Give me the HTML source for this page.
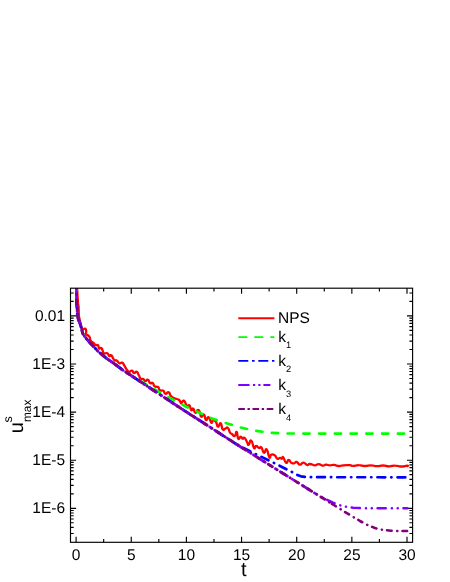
<!DOCTYPE html>
<html><head><meta charset="utf-8"><title>chart</title>
<style>
html,body{margin:0;padding:0;background:#fff;}
body{width:450px;height:582px;overflow:hidden;}
svg{display:block;}
text{font-family:"Liberation Sans", sans-serif;fill:#000;filter:grayscale(1);text-rendering:geometricPrecision;}
</style></head><body>
<svg width="450" height="582" viewBox="0 0 450 582">
<rect width="450" height="582" fill="#fff"/>
<defs><clipPath id="c"><rect x="70.5" y="288.2" width="342.1" height="254.1"/></clipPath></defs>
<g>
<path d="M76.10 542.30 v-5.60 M76.10 288.20 v5.60 M103.67 542.30 v-3.20 M103.67 288.20 v3.20 M131.25 542.30 v-5.60 M131.25 288.20 v5.60 M158.82 542.30 v-3.20 M158.82 288.20 v3.20 M186.40 542.30 v-5.60 M186.40 288.20 v5.60 M213.97 542.30 v-3.20 M213.97 288.20 v3.20 M241.55 542.30 v-5.60 M241.55 288.20 v5.60 M269.12 542.30 v-3.20 M269.12 288.20 v3.20 M296.70 542.30 v-5.60 M296.70 288.20 v5.60 M324.27 542.30 v-3.20 M324.27 288.20 v3.20 M351.85 542.30 v-5.60 M351.85 288.20 v5.60 M379.42 542.30 v-3.20 M379.42 288.20 v3.20 M407.00 542.30 v-5.60 M407.00 288.20 v5.60 M70.50 533.45 h3.20 M412.60 533.45 h-3.20 M70.50 527.44 h3.20 M412.60 527.44 h-3.20 M70.50 522.78 h3.20 M412.60 522.78 h-3.20 M70.50 518.97 h3.20 M412.60 518.97 h-3.20 M70.50 515.75 h3.20 M412.60 515.75 h-3.20 M70.50 512.96 h3.20 M412.60 512.96 h-3.20 M70.50 510.50 h3.20 M412.60 510.50 h-3.20 M70.50 508.30 h5.60 M412.60 508.30 h-5.60 M70.50 493.82 h3.20 M412.60 493.82 h-3.20 M70.50 485.35 h3.20 M412.60 485.35 h-3.20 M70.50 479.34 h3.20 M412.60 479.34 h-3.20 M70.50 474.68 h3.20 M412.60 474.68 h-3.20 M70.50 470.87 h3.20 M412.60 470.87 h-3.20 M70.50 467.65 h3.20 M412.60 467.65 h-3.20 M70.50 464.86 h3.20 M412.60 464.86 h-3.20 M70.50 462.40 h3.20 M412.60 462.40 h-3.20 M70.50 460.20 h5.60 M412.60 460.20 h-5.60 M70.50 445.72 h3.20 M412.60 445.72 h-3.20 M70.50 437.25 h3.20 M412.60 437.25 h-3.20 M70.50 431.24 h3.20 M412.60 431.24 h-3.20 M70.50 426.58 h3.20 M412.60 426.58 h-3.20 M70.50 422.77 h3.20 M412.60 422.77 h-3.20 M70.50 419.55 h3.20 M412.60 419.55 h-3.20 M70.50 416.76 h3.20 M412.60 416.76 h-3.20 M70.50 414.30 h3.20 M412.60 414.30 h-3.20 M70.50 412.10 h5.60 M412.60 412.10 h-5.60 M70.50 397.62 h3.20 M412.60 397.62 h-3.20 M70.50 389.15 h3.20 M412.60 389.15 h-3.20 M70.50 383.14 h3.20 M412.60 383.14 h-3.20 M70.50 378.48 h3.20 M412.60 378.48 h-3.20 M70.50 374.67 h3.20 M412.60 374.67 h-3.20 M70.50 371.45 h3.20 M412.60 371.45 h-3.20 M70.50 368.66 h3.20 M412.60 368.66 h-3.20 M70.50 366.20 h3.20 M412.60 366.20 h-3.20 M70.50 364.00 h5.60 M412.60 364.00 h-5.60 M70.50 349.52 h3.20 M412.60 349.52 h-3.20 M70.50 341.05 h3.20 M412.60 341.05 h-3.20 M70.50 335.04 h3.20 M412.60 335.04 h-3.20 M70.50 330.38 h3.20 M412.60 330.38 h-3.20 M70.50 326.57 h3.20 M412.60 326.57 h-3.20 M70.50 323.35 h3.20 M412.60 323.35 h-3.20 M70.50 320.56 h3.20 M412.60 320.56 h-3.20 M70.50 318.10 h3.20 M412.60 318.10 h-3.20 M70.50 315.90 h5.60 M412.60 315.90 h-5.60 M70.50 301.42 h3.20 M412.60 301.42 h-3.20 M70.50 292.95 h3.20 M412.60 292.95 h-3.20" stroke="#000" stroke-width="1.15" fill="none"/>
</g>
<g clip-path="url(#c)">
<path d="M76.9 284.0 C77.2 289.1 77.3 293.0 77.8 300.0 C78.3 307.0 78.2 301.2 78.5 306.0 C78.8 310.8 78.6 310.8 78.9 315.0 C79.2 319.2 78.7 315.3 79.6 319.3 C80.5 323.3 80.6 324.2 81.6 327.5 C82.5 330.8 81.6 329.2 82.6 329.6 C83.6 330.0 83.6 328.6 84.7 328.7 C85.8 328.8 85.5 328.1 86.0 330.0 C86.5 331.9 85.7 333.0 86.3 334.7 C86.9 336.4 86.9 334.5 88.0 335.3 C89.1 336.1 88.8 335.6 89.7 337.3 C90.6 339.0 89.3 338.8 90.7 340.7 C92.1 342.6 92.5 341.8 94.0 343.3 C95.5 344.8 94.1 344.8 95.3 345.3 C96.5 345.8 96.6 344.4 97.7 345.0 C98.8 345.6 98.2 346.1 98.7 347.3 C99.2 348.5 98.5 348.5 99.3 348.7 C100.1 348.9 100.2 347.4 101.3 348.0 C102.4 348.6 101.8 349.0 102.7 350.7 C103.6 352.4 102.5 352.5 104.0 353.3 C105.5 354.1 105.6 352.4 107.3 353.3 C109.0 354.2 108.0 355.4 109.3 356.0 C110.6 356.6 110.0 354.4 111.3 355.3 C112.6 356.2 112.2 357.1 113.3 358.7 C114.4 360.3 113.6 359.9 114.7 360.4 C115.8 360.9 115.2 359.5 116.7 360.4 C118.2 361.3 117.6 362.6 119.3 363.3 C121.0 364.0 120.5 362.2 122.0 362.7 C123.5 363.2 122.7 363.2 124.0 365.0 C125.3 366.8 124.5 366.2 126.0 368.3 C127.5 370.4 126.8 370.9 128.7 371.7 C130.6 372.5 130.3 370.3 132.0 370.7 C133.7 371.1 132.5 372.7 134.0 373.0 C135.5 373.3 135.2 371.1 136.7 371.7 C138.2 372.3 137.4 372.8 138.7 375.0 C140.0 377.2 139.2 377.4 140.7 378.7 C142.2 380.0 141.8 378.3 143.3 379.0 C144.8 379.7 143.8 380.8 145.3 381.0 C146.8 381.2 146.5 379.1 148.0 379.7 C149.5 380.3 148.5 382.0 150.0 383.0 C151.5 384.0 151.2 382.0 152.7 383.0 C154.2 384.0 153.0 385.0 154.7 386.3 C156.4 387.6 156.3 385.7 158.0 387.0 C159.7 388.3 158.3 389.1 160.0 390.3 C161.7 391.5 161.6 389.6 163.3 390.7 C165.0 391.8 163.6 393.2 165.3 393.7 C167.0 394.2 167.0 391.7 168.7 392.3 C170.4 392.9 169.2 394.0 170.7 395.7 C172.2 397.4 171.4 396.7 173.3 397.7 C175.2 398.7 175.0 398.4 176.7 399.0 C178.4 399.6 177.7 399.0 178.7 399.7 C179.7 400.4 179.2 400.2 180.0 401.3 C180.8 402.4 180.3 403.5 181.3 403.3 C182.3 403.1 182.0 400.9 183.3 400.7 C184.6 400.5 184.2 400.8 185.3 402.7 C186.4 404.6 185.4 405.9 186.7 406.7 C188.0 407.5 187.8 404.3 189.3 405.3 C190.8 406.3 190.0 408.9 191.3 410.0 C192.6 411.1 192.0 407.8 193.3 408.7 C194.6 409.6 193.8 412.3 195.3 412.7 C196.8 413.1 196.5 410.0 198.0 410.0 C199.5 410.0 199.0 410.6 200.0 412.7 C201.0 414.8 200.0 416.1 201.3 416.7 C202.6 417.3 202.5 413.7 204.0 414.7 C205.5 415.7 204.5 419.2 206.0 420.0 C207.5 420.8 207.0 416.4 208.7 417.3 C210.4 418.2 209.8 421.8 211.3 422.7 C212.8 423.6 211.8 420.2 213.3 420.0 C214.8 419.8 214.5 419.9 216.0 422.0 C217.5 424.1 216.5 426.3 218.0 426.7 C219.5 427.1 219.2 422.5 220.7 423.3 C222.2 424.1 221.2 427.6 222.7 429.3 C224.2 431.0 223.6 429.1 225.3 428.7 C227.0 428.3 226.5 426.7 228.0 428.0 C229.5 429.3 228.7 430.8 230.0 432.7 C231.3 434.6 230.5 433.0 232.0 434.0 C233.5 435.0 233.2 436.6 234.7 436.0 C236.2 435.4 235.6 431.1 236.7 432.0 C237.8 432.9 237.0 437.2 238.3 438.7 C239.6 440.2 239.3 436.7 240.7 436.7 C242.1 436.7 241.4 438.3 242.7 438.7 C244.0 439.1 243.2 436.7 244.7 438.0 C246.2 439.3 246.0 440.6 247.3 442.7 C248.6 444.8 247.4 445.3 248.7 444.7 C250.0 444.1 249.6 439.7 251.3 440.7 C253.0 441.7 252.5 446.3 254.0 448.0 C255.5 449.7 254.3 446.0 256.0 446.0 C257.7 446.0 257.6 447.6 259.3 448.0 C261.0 448.4 259.8 445.8 261.3 447.3 C262.8 448.8 262.3 452.1 264.0 452.7 C265.7 453.3 265.0 447.8 266.7 449.3 C268.4 450.8 267.8 455.6 269.3 457.3 C270.8 459.0 269.6 455.3 271.3 454.7 C273.0 454.1 272.8 454.0 274.7 455.3 C276.6 456.6 275.6 457.8 277.3 458.7 C279.0 459.6 278.5 458.0 280.0 458.0 C281.5 458.0 281.0 458.9 282.0 458.7 C283.0 458.5 282.0 456.0 283.3 457.3 C284.6 458.6 284.3 461.8 286.0 462.7 C287.7 463.6 287.0 460.0 288.7 460.0 C290.4 460.0 289.6 461.7 291.3 462.7 C293.0 463.7 292.3 463.5 294.0 463.3 C295.7 463.1 294.8 461.6 296.7 462.0 C298.6 462.4 297.9 464.5 300.0 464.7 C302.1 464.9 301.0 462.6 303.3 462.7 C305.6 462.8 305.2 464.6 307.3 465.0 C309.4 465.4 307.7 463.9 310.0 464.0 C312.3 464.1 311.9 465.2 314.7 465.3 C317.5 465.4 316.2 464.1 318.7 464.2 C321.2 464.3 320.4 465.4 322.7 465.6 C325.0 465.8 323.7 464.8 326.0 464.7 C328.3 464.6 327.5 465.4 330.0 465.4 C332.5 465.4 331.2 464.6 334.0 464.8 C336.8 465.0 335.8 465.8 338.7 466.0 C341.6 466.2 339.7 465.6 343.3 465.3 C346.9 465.0 346.9 465.0 350.0 465.2 C353.1 465.4 350.1 465.9 353.0 465.9 C355.9 465.9 355.2 465.1 359.0 465.2 C362.8 465.2 361.2 466.0 365.0 466.0 C368.8 466.1 367.2 465.3 371.0 465.3 C374.8 465.3 373.2 466.1 377.0 466.2 C380.8 466.2 379.2 465.4 383.0 465.4 C386.8 465.5 385.2 466.3 389.0 466.3 C392.8 466.4 391.2 465.5 395.0 465.6 C398.8 465.6 397.2 466.4 401.0 466.5 C404.8 466.5 404.9 465.8 407.0 465.7 C409.1 465.6 407.4 466.0 407.6 466.1" fill="none" stroke="#ff0000" stroke-width="2.3" stroke-linejoin="round" stroke-linecap="round"/>
<path d="M76.4 284.0 L76.5 300.0 L76.8 306.0 L77.4 315.0 L78.4 319.6 L80.2 324.0 L81.4 328.5 L82.7 333.3 L84.7 336.7 L90.0 342.7 L98.0 351.3 L106.0 358.0 L114.0 363.5 L122.0 369.5 L130.0 374.7 L140.0 380.8 L150.0 386.6 L164.0 395.0 L177.3 401.7 L186.7 407.0 L200.0 413.0 L213.3 419.0 L228.0 423.7 L238.7 427.0 L254.7 430.7 L269.0 432.7 L284.3 433.4 L296.0 433.6 L407.3 433.6" fill="none" stroke="#00ff00" stroke-width="2.6" stroke-linejoin="round" stroke-linecap="round" stroke-dasharray="6.3 9.45" stroke-dashoffset="15.2"/>
<path d="M76.4 284.0 L76.5 300.0 L76.8 306.0 L77.4 315.0 L78.4 319.6 L80.2 324.0 L81.4 328.5 L82.7 333.3 L84.7 336.7 L90.0 342.7 L98.0 351.3 L106.0 358.0 L114.0 363.5 L122.0 369.5 L150.0 388.0 L184.0 410.4 L212.0 428.4 L236.0 444.0 L236.0 444.0" fill="none" stroke="#0000ff" stroke-width="2.9000000000000004" stroke-linejoin="round" stroke-linecap="round" stroke-dasharray="7.8 6 0.3 6" stroke-dashoffset="4.0"/>
<path d="M236.0 444.0 L250.0 451.3 L270.0 461.0 L290.0 471.0 L292.7 472.4 L297.3 475.0 L301.0 476.3 L305.3 476.9 L312.0 477.2 L407.3 477.3" fill="none" stroke="#0000ff" stroke-width="2.7" stroke-linejoin="round" stroke-linecap="round" stroke-dasharray="7.8 6 0.3 6" stroke-dashoffset="11.7"/>
<path d="M76.4 284.0 L76.5 300.0 L76.8 306.0 L77.4 315.0 L78.4 319.6 L80.2 324.0 L81.4 328.5 L82.7 333.3 L84.7 336.7 L90.0 342.7 L98.0 351.3 L106.0 358.0 L114.0 363.5 L122.0 369.5 L150.0 388.0 L184.0 410.4 L212.0 428.4 L240.0 446.5 L266.0 462.8 L292.0 479.0 L300.0 484.0 L315.0 493.3 L316.0 493.9" fill="none" stroke="#8000ff" stroke-width="2.8" stroke-linejoin="round" stroke-linecap="round" stroke-dasharray="8.2 6.1 0.1 5.7 0.1 5.7" stroke-dashoffset="18.4"/>
<path d="M316.0 493.9 L325.0 498.8 L333.0 502.7 L340.0 505.3 L347.0 506.9 L353.0 507.7 L360.0 508.1 L370.0 508.3 L407.3 508.3" fill="none" stroke="#8000ff" stroke-width="2.5" stroke-linejoin="round" stroke-linecap="round" stroke-dasharray="8.2 6.1 0.1 5.7 0.1 5.7" stroke-dashoffset="13.3"/>
<path d="M76.4 284.0 L76.5 300.0 L76.8 306.0 L77.4 315.0 L78.4 319.6 L80.2 324.0 L81.4 328.5 L82.7 333.3 L84.7 336.7 L90.0 342.7 L98.0 351.3 L106.0 358.0 L114.0 363.5 L122.0 369.5 L150.0 388.0 L184.0 410.4 L212.0 428.4 L240.0 446.5 L266.0 462.8 L292.0 479.0 L300.0 484.0 L330.0 502.6 L331.0 503.2" fill="none" stroke="#800080" stroke-width="2.9" stroke-linejoin="round" stroke-linecap="round" stroke-dasharray="4.6 5.55 0.1 5.2" stroke-dashoffset="15.2"/>
<path d="M331.0 503.2 L345.0 512.0 L360.0 521.0 L368.0 525.3 L375.0 528.0 L381.0 529.6 L391.0 530.8 L400.0 531.0 L407.3 531.0" fill="none" stroke="#800080" stroke-width="2.6" stroke-linejoin="round" stroke-linecap="round" stroke-dasharray="4.6 5.55 0.1 5.2" stroke-dashoffset="14.3"/>
</g>
<rect x="70.5" y="288.2" width="342.1" height="254.1" fill="none" stroke="#000" stroke-width="1.15"/>
<g font-size="15.5">
<text x="76.1" y="559.7" text-anchor="middle">0</text>
<text x="131.2" y="559.7" text-anchor="middle">5</text>
<text x="186.4" y="559.7" text-anchor="middle">10</text>
<text x="241.5" y="559.7" text-anchor="middle">15</text>
<text x="296.7" y="559.7" text-anchor="middle">20</text>
<text x="351.9" y="559.7" text-anchor="middle">25</text>
<text x="407.0" y="559.7" text-anchor="middle">30</text>
<text x="65.1" y="320.5" text-anchor="end">0.01</text>
<text x="65.1" y="368.6" text-anchor="end">1E-3</text>
<text x="65.1" y="416.7" text-anchor="end">1E-4</text>
<text x="65.1" y="464.8" text-anchor="end">1E-5</text>
<text x="65.1" y="512.9" text-anchor="end">1E-6</text>
</g>
<g font-size="15.5">
<path d="M238.3 318.2 H274.4" stroke="#ff0000" stroke-width="1.9" fill="none"/>
<path d="M238.3 337.1 H274.4" stroke="#00ff00" stroke-width="1.9" fill="none" stroke-dasharray="9 7"/>
<path d="M238.3 360.9 H274.4" stroke="#0000ff" stroke-width="1.9" fill="none" stroke-dasharray="10 3.7 2.6 3.7"/>
<path d="M238.3 385.0 H270.4" stroke="#8000ff" stroke-width="1.9" fill="none" stroke-dasharray="11.2 3.5 2.2 3.1 2.2 2.9"/>
<path d="M238.3 409.0 H274.4" stroke="#800080" stroke-width="1.9" fill="none" stroke-dasharray="6.6 2.6 2.4 2.6"/>
<text x="278" y="323.3">NPS</text>
<text x="278.2" y="342.2">k<tspan font-size="9.3" dy="6.2">1</tspan></text>
<text x="278.2" y="366.2">k<tspan font-size="9.3" dy="6.2">2</tspan></text>
<text x="278.2" y="390.3">k<tspan font-size="9.3" dy="6.2">3</tspan></text>
<text x="278.2" y="414.3">k<tspan font-size="9.3" dy="6.2">4</tspan></text>
</g>
<text x="243.9" y="576.4" font-size="20" text-anchor="middle">t</text>
<g transform="translate(22.6 433.2) rotate(-90)">
<text x="0" y="0" font-size="20">u</text>
<text x="10.6" y="-10.6" font-size="12.5">s</text>
<text x="11.1" y="8.7" font-size="11.9">max</text>
</g>
</svg>
</body></html>
